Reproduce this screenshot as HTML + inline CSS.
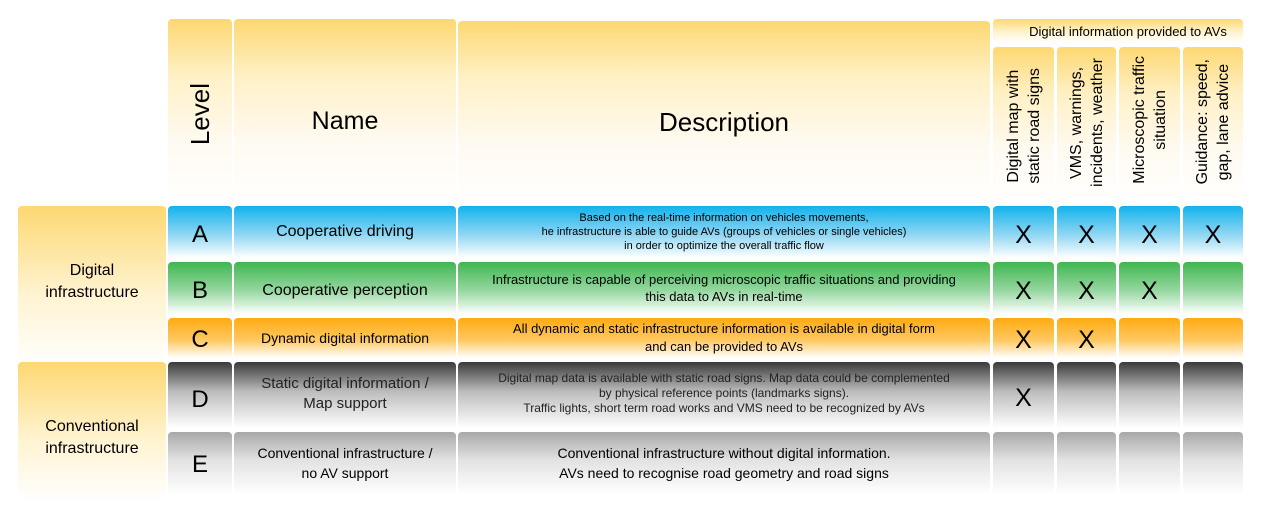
<!DOCTYPE html>
<html><head><meta charset="utf-8"><style>
body{margin:0;width:1261px;height:512px;background:#fff;position:relative;overflow:hidden;font-family:"Liberation Sans","DejaVu Sans",sans-serif;color:#000}
.c{position:absolute;display:flex;align-items:center;justify-content:center;text-align:center;border-radius:4px 4px 0 0;box-sizing:border-box}
.h{background:linear-gradient(#fdd872 0%,#fff0c4 30%,#fffaf0 65%,#fff 100%)}
.y{background:linear-gradient(#fdd872 0%,#fff3d0 55%,#fff 100%)}
.a{background:linear-gradient(#12b2ec 0%,#8fd6f3 55%,#fff 100%)}
.b{background:linear-gradient(#3fb650 0%,#96d7a0 55%,#fff 100%)}
.o{background:linear-gradient(#ffaa12 0%,#ffc860 55%,#fff 100%)}
.d{background:linear-gradient(#3a3a3a 0%,#bdbdbd 45%,#fff 100%)}
.e{background:linear-gradient(#a8a8a8 0%,#e2e2e2 45%,#fff 100%)}
.v{writing-mode:vertical-rl;transform:rotate(180deg);white-space:nowrap}
</style></head><body>
<div class="c h" style="left:168px;top:19px;width:64px;height:185px;font-size:26px;padding-top:6px"><span class="v">Level</span></div>
<div class="c h" style="left:234px;top:19px;width:222px;height:185px;font-size:25px;padding-top:20px">Name</div>
<div class="c h" style="left:458px;top:21px;width:532px;height:185px;font-size:26px;padding-top:18px">Description</div>
<div class="c y" style="left:993px;top:19px;width:250px;height:24px;font-size:13px;padding-left:20px">Digital information provided to AVs</div>
<div class="c h" style="left:993px;top:47px;width:61px;height:155px;font-size:16px;align-items:flex-end;padding-bottom:18px"><span class="v" style="line-height:21px">Digital map with<br>static road signs</span></div>
<div class="c h" style="left:1057px;top:47px;width:59px;height:155px;font-size:16px;align-items:flex-end;padding-bottom:15px"><span class="v" style="line-height:21px">VMS, warnings,<br>incidents, weather</span></div>
<div class="c h" style="left:1119px;top:47px;width:61px;height:155px;font-size:16px;align-items:flex-end;padding-bottom:18px"><span class="v" style="line-height:21px">Microscopic traffic<br>situation</span></div>
<div class="c h" style="left:1183px;top:47px;width:60px;height:155px;font-size:16px;align-items:flex-end;padding-bottom:18px"><span class="v" style="line-height:21px">Guidance: speed,<br>gap, lane advice</span></div>

<div class="c y" style="left:18px;top:206px;width:148px;height:160px;font-size:16px;line-height:22px;padding-bottom:8px">Digital<br>infrastructure</div>
<div class="c y" style="left:18px;top:362px;width:148px;height:140px;font-size:16px;line-height:22px;padding-top:12px">Conventional<br>infrastructure</div>

<div class="c a" style="left:168px;top:206px;width:64px;height:52px;font-size:24px;padding-top:6px">A</div>
<div class="c a" style="left:234px;top:206px;width:222px;height:52px;font-size:16px">Cooperative driving</div>
<div class="c a" style="left:458px;top:206px;width:532px;height:52px;font-size:11px;line-height:14px">Based on the real-time information on vehicles movements,<br>he infrastructure is able to guide AVs (groups of vehicles or single vehicles)<br>in order to optimize the overall traffic flow</div>
<div class="c a" style="left:993px;top:206px;width:61px;height:52px;font-size:25px;padding-top:6px">X</div>
<div class="c a" style="left:1057px;top:206px;width:59px;height:52px;font-size:25px;padding-top:6px">X</div>
<div class="c a" style="left:1119px;top:206px;width:61px;height:52px;font-size:25px;padding-top:6px">X</div>
<div class="c a" style="left:1183px;top:206px;width:60px;height:52px;font-size:25px;padding-top:6px">X</div>

<div class="c b" style="left:168px;top:262px;width:64px;height:52px;font-size:24px;padding-top:6px">B</div>
<div class="c b" style="left:234px;top:262px;width:222px;height:52px;font-size:16px;padding-top:6px">Cooperative perception</div>
<div class="c b" style="left:458px;top:262px;width:532px;height:52px;font-size:13px;line-height:17px">Infrastructure is capable of perceiving microscopic traffic situations and providing<br>this data to AVs in real-time</div>
<div class="c b" style="left:993px;top:262px;width:61px;height:52px;font-size:25px;padding-top:6px">X</div>
<div class="c b" style="left:1057px;top:262px;width:59px;height:52px;font-size:25px;padding-top:6px">X</div>
<div class="c b" style="left:1119px;top:262px;width:61px;height:52px;font-size:25px;padding-top:6px">X</div>
<div class="c b" style="left:1183px;top:262px;width:60px;height:52px"></div>

<div class="c o" style="left:168px;top:318px;width:64px;height:40px;font-size:24px;padding-top:4px">C</div>
<div class="c o" style="left:234px;top:318px;width:222px;height:40px;font-size:14px">Dynamic digital information</div>
<div class="c o" style="left:458px;top:318px;width:532px;height:40px;font-size:13px;line-height:18px">All dynamic and static infrastructure information is available in digital form<br>and can be provided to AVs</div>
<div class="c o" style="left:993px;top:318px;width:61px;height:40px;font-size:25px;padding-top:4px">X</div>
<div class="c o" style="left:1057px;top:318px;width:59px;height:40px;font-size:25px;padding-top:4px">X</div>
<div class="c o" style="left:1119px;top:318px;width:61px;height:40px"></div>
<div class="c o" style="left:1183px;top:318px;width:60px;height:40px"></div>

<div class="c d" style="left:168px;top:362px;width:64px;height:66px;font-size:24px;padding-top:10px">D</div>
<div class="c d" style="left:234px;top:362px;width:222px;height:66px;font-size:15px;line-height:20px;color:#222;padding-bottom:2px">Static digital information /<br>Map support</div>
<div class="c d" style="left:458px;top:362px;width:532px;height:66px;font-size:12px;line-height:15px;color:#222;padding-bottom:4px">Digital map data is available with static road signs. Map data could be complemented<br>by physical reference points (landmarks signs).<br>Traffic lights, short term road works and VMS need to be recognized by AVs</div>
<div class="c d" style="left:993px;top:362px;width:61px;height:66px;font-size:25px;padding-top:6px">X</div>
<div class="c d" style="left:1057px;top:362px;width:59px;height:66px"></div>
<div class="c d" style="left:1119px;top:362px;width:61px;height:66px"></div>
<div class="c d" style="left:1183px;top:362px;width:60px;height:66px"></div>

<div class="c e" style="left:168px;top:432px;width:64px;height:62px;font-size:24px;padding-top:4px">E</div>
<div class="c e" style="left:234px;top:432px;width:222px;height:62px;font-size:14px;line-height:20px">Conventional infrastructure /<br>no AV support</div>
<div class="c e" style="left:458px;top:432px;width:532px;height:62px;font-size:14px;line-height:20px">Conventional infrastructure without digital information.<br>AVs need to recognise road geometry and road signs</div>
<div class="c e" style="left:993px;top:432px;width:61px;height:62px"></div>
<div class="c e" style="left:1057px;top:432px;width:59px;height:62px"></div>
<div class="c e" style="left:1119px;top:432px;width:61px;height:62px"></div>
<div class="c e" style="left:1183px;top:432px;width:60px;height:62px"></div>
</body></html>
